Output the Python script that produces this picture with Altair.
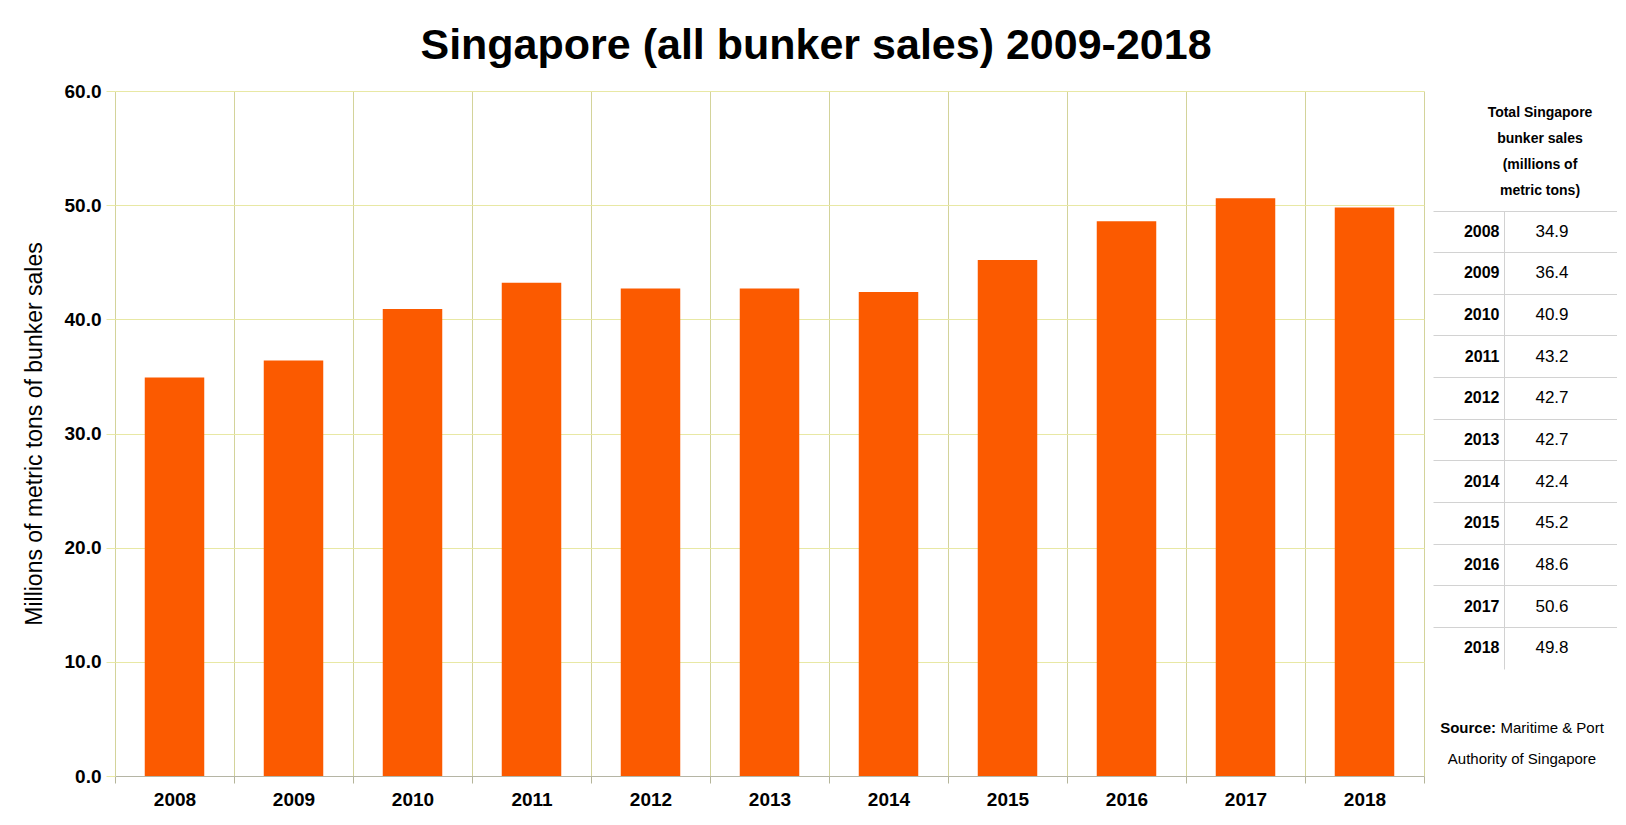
import altair as alt
import pandas as pd

# ---------------- data ----------------
years = ["2008", "2009", "2010", "2011", "2012", "2013", "2014", "2015", "2016", "2017", "2018"]
sales = [34.9, 36.4, 40.9, 43.2, 42.7, 42.7, 42.4, 45.2, 48.6, 50.6, 49.8]
y_ticks = [0, 10, 20, 30, 40, 50, 60]
chart_title = "Singapore (all bunker sales) 2009-2018"
y_title = "Millions of metric tons of bunker sales"
header_lines = ["Total Singapore", "bunker sales", "(millions of", "metric tons)"]
source_parts = ["bold", "rest", "line2"]
source_texts = ["Source:", "Maritime & Port", "Authority of Singapore"]
source_rows = ["1", "1", "2"]

# ---------------- style ----------------
FONT = "Liberation Sans, Arial, sans-serif"
ORANGE = "#fb5a00"
HGRID = "#e8e8a4"
VGRID = "#d3d39a"
TABLE_LINE = "#d2d2d2"
TEXT = "#000000"

PLOT_W, PLOT_H = 1309, 685
TABLE_W = 184
YEAR_COL_W = 71
HEADER_H = 120
TABLE_H = 458
SOURCE_H = PLOT_H - HEADER_H - TABLE_H

sales_df = pd.DataFrame({"year": years, "sales": sales})
table_df = pd.DataFrame({"year": years, "label": [f"{v:.1f}" for v in sales]})
header_df = pd.DataFrame({"line": header_lines})
source_df = pd.DataFrame({"part": source_parts, "text": source_texts, "row": source_rows})

# ---------------- bar chart ----------------
bars = alt.Chart(sales_df).mark_bar(
    color=ORANGE, width=alt.RelativeBandSize(0.5)
).encode(
    x=alt.X(
        "year:N", sort=years, title=None,
        scale=alt.Scale(type="band", paddingInner=0, paddingOuter=0),
        axis=alt.Axis(
            labelAngle=0, labelFont=FONT, labelFontSize=19, labelFontWeight="bold",
            labelColor=TEXT, labelPadding=7, tickBand="extent", ticks=True,
            tickSize=7, tickColor="#b5b59a", grid=True, gridColor=VGRID,
            domainColor="#b5b5a5",
        ),
    ),
    y=alt.Y(
        "sales:Q", title=y_title,
        scale=alt.Scale(domain=[0, 60], nice=False),
        axis=alt.Axis(
            values=y_ticks, format=".1f", labelFont=FONT, labelFontSize=19,
            labelFontWeight="bold", labelColor=TEXT, labelPadding=5, tickSize=9,
            tickColor=HGRID, grid=True, gridColor=HGRID, domain=False,
            titleFont=FONT, titleFontSize=23, titleFontWeight="normal",
            titleColor=TEXT, titlePadding=18,
        ),
    ),
).properties(width=PLOT_W, height=PLOT_H)

# ---------------- table header ----------------
header = alt.Chart(header_df).mark_text(
    font=FONT, fontSize=14, fontWeight="bold", color=TEXT, dx=15
).encode(
    y=alt.Y("line:N", sort=header_lines, axis=None,
            scale=alt.Scale(type="band", paddingInner=0, paddingOuter=0.3, align=0.55)),
    text="line:N",
).properties(width=TABLE_W, height=HEADER_H)

# ---------------- table rows ----------------
table = alt.Chart(table_df).mark_text(
    font=FONT, fontSize=17, color=TEXT, align="center", dx=27
).encode(
    y=alt.Y(
        "year:N", sort=years, title=None,
        scale=alt.Scale(type="band", paddingInner=0, paddingOuter=0),
        axis=alt.Axis(
            orient="left", offset=-YEAR_COL_W, bandPosition=0,
            grid=True, gridColor=TABLE_LINE,
            domain=True, domainColor=TABLE_LINE,
            ticks=False, tickSize=0,
            labels=True, labelFont=FONT, labelFontSize=16, labelFontWeight="bold",
            labelColor=TEXT, labelPadding=5,
        ),
    ),
    text="label:N",
).properties(width=TABLE_W, height=TABLE_H)

# ---------------- source note ----------------
src_y = alt.Y("row:N", axis=None,
              scale=alt.Scale(type="band", paddingInner=0, paddingOuter=0.726, align=0.967))
src_bold = alt.Chart(source_df).transform_filter(alt.datum.part == "bold").mark_text(
    font=FONT, fontSize=15, fontWeight="bold", color=TEXT, align="right", dx=-29
).encode(y=src_y, text="text:N")
src_rest = alt.Chart(source_df).transform_filter(alt.datum.part == "rest").mark_text(
    font=FONT, fontSize=15, color=TEXT, align="left", dx=-24.5
).encode(y=src_y, text="text:N")
src_line2 = alt.Chart(source_df).transform_filter(alt.datum.part == "line2").mark_text(
    font=FONT, fontSize=15, color=TEXT, align="center", dx=-3
).encode(y=src_y, text="text:N")
source = alt.layer(src_bold, src_rest, src_line2).properties(width=TABLE_W, height=SOURCE_H)

right_col = alt.vconcat(header, table, source, spacing=0, bounds="flush")

chart = alt.hconcat(bars, right_col, spacing=9, bounds="flush").properties(
    title=alt.Title(chart_title, font=FONT, fontSize=43, fontWeight="bold",
                    color=TEXT, anchor="middle", offset=14, dx=-4),
    padding={"left": 15, "top": 17, "right": 0, "bottom": 2},
    background="white",
).configure_view(strokeWidth=0)

chart.save("out.html", embed_options={"renderer": "svg", "actions": False})
